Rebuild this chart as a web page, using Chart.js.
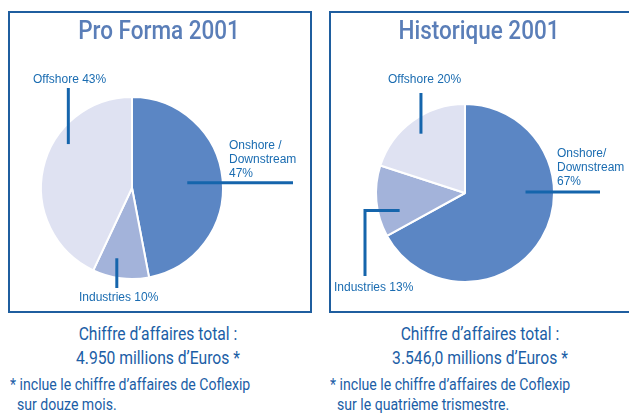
<!DOCTYPE html>
<html>
<head>
<meta charset="utf-8">
<script src="https://cdn.jsdelivr.net/npm/chart.js@4.4.0/dist/chart.umd.min.js"></script>
<style>
body{margin:0;background:#fff;width:629px;height:413px;overflow:hidden;position:relative;font-family:Roboto,"Liberation Sans",sans-serif}
.box{position:absolute;border:2px solid #1f5e9f;box-sizing:border-box}
#boxL{left:8px;top:11px;width:304px;height:302px}
#boxR{left:329px;top:11px;width:310px;height:302px}
canvas{position:absolute}
.title{position:absolute;top:16px;font-size:25px;font-weight:500;color:#5a7eb8;white-space:nowrap;transform:translateX(-50%) scaleX(.9)}
.tot{position:absolute;color:#1b5ea6;font-size:18px;line-height:24px;white-space:nowrap;text-align:center;transform:translateX(-50%) scaleX(.87)}
.note{position:absolute;color:#1b5ea6;font-size:16px;line-height:20px;white-space:nowrap;transform:scaleX(.88);transform-origin:left top}
</style>
</head>
<body>
<div class="box" id="boxL"></div>
<div class="box" id="boxR"></div>
<canvas id="pieL" width="300" height="298" style="left:10px;top:13px"></canvas>
<canvas id="pieR" width="298" height="298" style="left:331px;top:13px"></canvas>
<div class="title" style="left:159px">Pro Forma 2001</div>
<div class="title" style="left:479px">Historique 2001</div>
<div class="tot" style="left:158px;top:322px">Chiffre d’affaires total :<br>4.950 millions d’Euros *</div>
<div class="tot" style="left:480px;top:322px">Chiffre d’affaires total :<br>3.546,0 millions d’Euros *</div>
<div class="note" style="left:10px;top:375px">* inclue le chiffre d’affaires de Coflexip<br>&nbsp;&nbsp;sur douze mois.</div>
<div class="note" style="left:330px;top:375px">* inclue le chiffre d’affaires de Coflexip<br>&nbsp;&nbsp;sur le quatrième trismestre.</div>
<script>
// data
const catsL = [['Onshore /', 'Downstream'], ['Industries'], ['Offshore']];
const valsL = [47, 10, 43];
const catsR = [['Onshore/', 'Downstream'], ['Industries'], ['Offshore']];
const valsR = [67, 13, 20];
const colors = ['#5b86c4', '#a3b3da', '#dfe2f2'];

// leader lines + labels, drawn from the arc geometry
const leaderPlugin = {
  id: 'leaders',
  afterDatasetsDraw(chart, args, opts) {
    const ctx = chart.ctx;
    const meta = chart.getDatasetMeta(0);
    const vals = chart.data.datasets[0].data;
    meta.data.forEach((arc, i) => {
      const L = opts.layout[i];
      const cx = arc.x, cy = arc.y;
      const mid = (arc.startAngle + arc.endAngle) / 2 + L.turn * Math.PI / 180;
      const r = arc.outerRadius * L.depth;
      let x = cx + Math.cos(mid) * r, y = cy + Math.sin(mid) * r;
      ctx.save();
      ctx.strokeStyle = '#1565ac';
      ctx.lineWidth = 3;
      ctx.beginPath();
      ctx.moveTo(x, y);
      L.path.forEach(s => {
        if (s.h !== undefined) x = cx + s.h;
        if (s.v !== undefined) y = cy + s.v;
        ctx.lineTo(x, y);
      });
      ctx.stroke();
      const cat = opts.cats[i];
      const lines = cat.length > 1 ? cat.concat([vals[i] + '%']) : [cat[0] + ' ' + vals[i] + '%'];
      ctx.fillStyle = '#1a6cb1';
      ctx.font = '12px "Liberation Sans", Arial, sans-serif';
      ctx.textBaseline = 'middle';
      ctx.textAlign = 'left';
      lines.forEach((t, k) => ctx.fillText(t, cx + L.x, cy + L.y + k * 14));
      ctx.restore();
    });
  }
};

function makePie(id, cats, vals, pad, layout) {
  return new Chart(document.getElementById(id), {
    type: 'pie',
    data: {
      labels: cats.map(c => c.join(' ')),
      datasets: [{data: vals, backgroundColor: colors, borderColor: '#ffffff', borderWidth: 2}]
    },
    options: {
      responsive: false,
      animation: false,
      layout: {padding: pad},
      plugins: {
        legend: {display: false},
        tooltip: {enabled: false},
        leaders: {layout: layout, cats: cats}
      }
    },
    plugins: [leaderPlugin]
  });
}

makePie('pieL', catsL, valsL, {left: 30, top: 83, right: 86, bottom: 31}, [
  {turn: 0, depth: 0.61, path: [{h: 161}], x: 97, y: -42},
  {turn: 5, depth: 0.79, path: [{v: 100}], x: -53, y: 110},
  {turn: 22, depth: 0.85, path: [{v: -100}], x: -99, y: -108}
]);

makePie('pieR', catsR, valsR, {left: 44, top: 90, right: 74, bottom: 28}, [
  {turn: -31.6, depth: 0.68, path: [{h: 135}], x: 92, y: -39},
  {turn: -9.5, depth: 0.76, path: [{h: -100}, {v: 83}], x: -131, y: 95},
  {turn: -0.6, depth: 0.83, path: [{v: -100}], x: -77, y: -113}
]);
</script>
</body>
</html>
